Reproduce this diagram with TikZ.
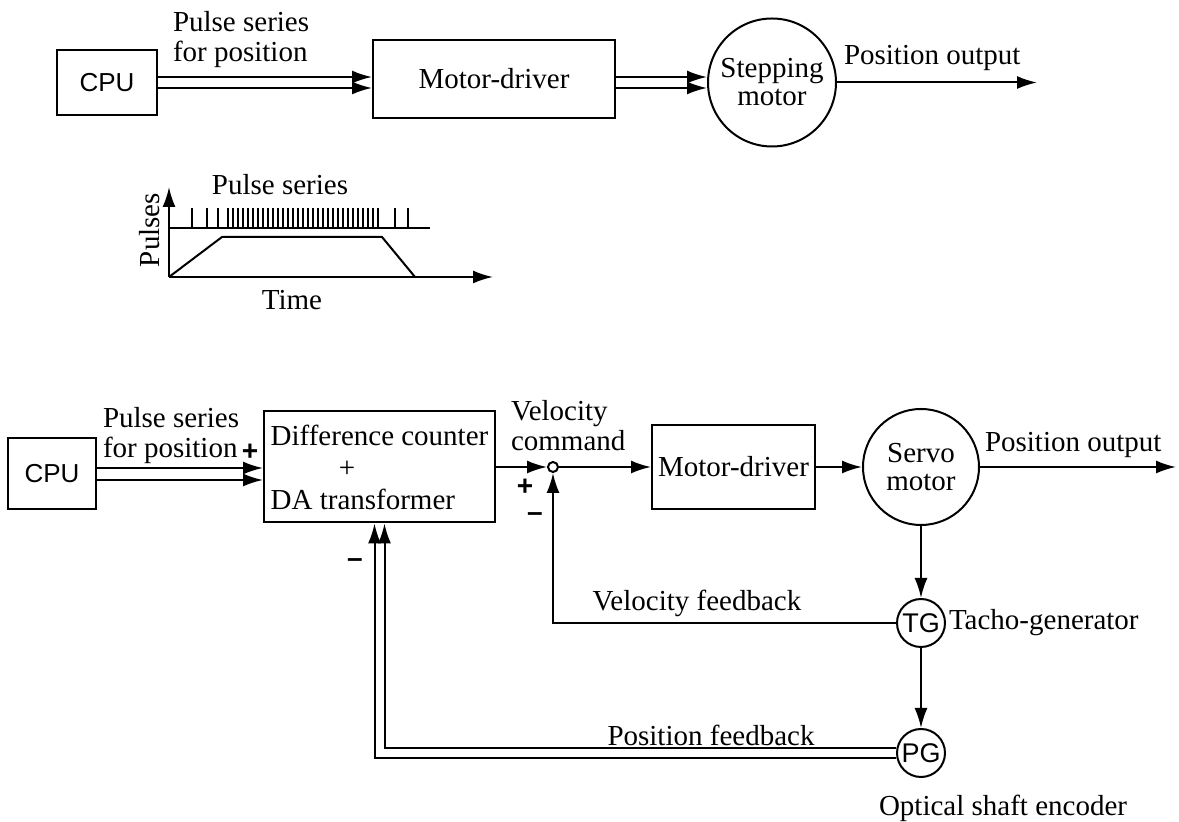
\documentclass[tikz,border=0pt]{standalone}
\usepackage{fontspec}
\setmainfont{Liberation Serif}
\setsansfont{Liberation Sans}
\usepackage{amsmath}
\usetikzlibrary{arrows.meta}

\begin{document}
\begin{tikzpicture}[x=0.5pt,y=-0.5pt,line width=1pt,
    >={Latex[length=10pt,width=6.5pt]},
    txt/.style={inner sep=0pt, align=left, font=\fontsize{14.5}{15}\selectfont},
    blk/.style={draw, rectangle, inner sep=0pt, align=left, font=\fontsize{14.5}{16}\selectfont},
    cpubox/.style={draw, rectangle, inner sep=0pt, font=\sffamily\fontsize{13}{14}\selectfont},
    motor/.style={draw, circle, inner sep=0pt, align=center, font=\fontsize{14.5}{14}\selectfont},
    gen/.style={draw, circle, inner sep=0pt, minimum size=24pt, font=\sffamily\fontsize{13.5}{14}\selectfont},
    sgn/.style={inner sep=0pt, font=\sffamily\bfseries\fontsize{14}{14}\selectfont}]
    \useasboundingbox (0,0) rectangle (1179,822);
    % stepping motor drive
    \node[cpubox, minimum width=50pt, minimum height=32.5pt] (cpu1) at (107,82.5) {CPU};
    \node[txt, anchor=west] (ps1) at (172,40) {Pulse series\\for position};
    \node[blk, minimum width=121pt, minimum height=39pt] (md1) at (494,79) {Motor-driver};
    \node[motor, minimum size=64pt] (sm) at (772,82.5) {Stepping\\motor};
    \node[txt, anchor=west] (po1) at (843,58) {Position output};
    \coordinate (out1) at (1037,82.5);
    \draw[->] ([yshift=2.75pt]cpu1.east) -- ([yshift=2.75pt]cpu1.east -| md1.west);
    \draw[->] ([yshift=-2.75pt]cpu1.east) -- ([yshift=-2.75pt]cpu1.east -| md1.west);
    \draw[->] ([yshift=2.75pt]cpu1.east -| md1.east) -- ([yshift=2.75pt]cpu1.east -| sm.west);
    \draw[->] ([yshift=-2.75pt]cpu1.east -| md1.east) -- ([yshift=-2.75pt]cpu1.east -| sm.west);
    \draw[->] (sm.east) -- (out1);
    % pulse series graph
    \draw[->] (169,277) -- (169,187);
    \draw[->] (169,277) -- (493,277);
    \draw (169,228) -- (430,228);
    \draw (169,277) -- (222,237) -- (382,237) -- (415,277);
    \foreach \t in {192,207,218,395,408}
        \draw[line width=0.7pt] (\t,228) -- (\t,208);
    \foreach \t in {228,233,...,378}
        \draw[line width=0.7pt] (\t,228) -- (\t,208);
    \node[txt] (pstitle) at (280,185) {Pulse series};
    \node[txt] (tlabel) at (292,300) {Time};
    \node[txt, rotate=90] (plabel) at (150,230) {Pulses};
    % servo motor drive
    \node[cpubox, minimum width=44pt, minimum height=35.5pt] (cpu2) at (52,474) {CPU};
    \node[txt, anchor=west] (ps2) at (102,436) {Pulse series\\for position};
    \node[sgn] (plus1) at (250,452) {+};
    \node[blk, minimum width=115.5pt, minimum height=55.5pt] (dac) at (379.5,467) {Difference counter\\\hspace*{2.35em}+\\DA transformer};
    \node[circle, draw, minimum size=5pt, inner sep=0pt] (junc) at (553,467) {};
    \node[txt, anchor=west] (vcmd) at (510,426) {Velocity\\command};
    \node[sgn] (plus2) at (525,487) {+};
    \node[sgn] (minus2) at (535,517) {--};
    \node[blk, minimum width=81.5pt, minimum height=42pt] (md2) at (733.5,467) {Motor-driver};
    \node[motor, minimum size=58pt] (servo) at (921,467) {Servo\\motor};
    \node[txt, anchor=west] (po2) at (984,445) {Position output};
    \coordinate (out2) at (1176,467);
    \node[gen] (tg) at (921,623) {TG};
    \node[gen] (pg) at (921,753) {PG};
    \node[txt, anchor=west] (tacho) at ([xshift=1pt]tg.east) {Tacho-generator};
    \node[txt] (ose) at (1003,808) {Optical shaft encoder};
    \node[txt] (vfb) at (697,603) {Velocity feedback};
    \node[txt] (pfb) at (711,735) {Position feedback};
    \node[sgn] (minus1) at (355,563) {--};
    \draw[->] ([yshift=3pt]cpu2.east) -- ([yshift=3pt]cpu2.east -| dac.west);
    \draw[->] ([yshift=-3pt]cpu2.east) -- ([yshift=-3pt]cpu2.east -| dac.west);
    \draw[->] (dac.east) -- (junc.west);
    \draw[->] (junc.east) -- (md2.west);
    \draw[->] (md2.east) -- (servo.west);
    \draw[->] (servo.east) -- (out2);
    \draw[->] (servo.south) -- (tg.north);
    \draw[->] (tg.south) -- (pg.north);
    \draw[->] (tg.west) -| (junc.south);
    \draw[->] ([yshift=2.5pt]pg.west) -| ([xshift=2.5pt]dac.south);
    \draw[->] ([yshift=-2.5pt]pg.west) -| ([xshift=-2.5pt]dac.south);
\end{tikzpicture}
\end{document}
